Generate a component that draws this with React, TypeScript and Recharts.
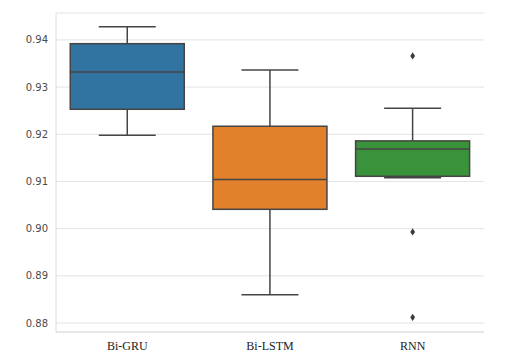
import React from 'react';
import { ComposedChart, Bar, Scatter, XAxis, YAxis, CartesianGrid } from 'recharts';

const categories = ['Bi-GRU', 'Bi-LSTM', 'RNN'];
const whiskerLow = [0.9198, 0.886, 0.9108];
const q1 = [0.9253, 0.9041, 0.9111];
const median = [0.9332, 0.9104, 0.9169];
const q3 = [0.9392, 0.9217, 0.9186];
const whiskerHigh = [0.9428, 0.9336, 0.9255];
const outliers1 = [null, null, 0.9366];
const outliers2 = [null, null, 0.8993];
const outliers3 = [null, null, 0.8812];
const yTicks = [0.88, 0.89, 0.9, 0.91, 0.92, 0.93, 0.94];
const yDomain = [0.8781, 0.9457];

const boxColors = ['#3274a1', '#e1812c', '#3a923a'];
const EDGE = '#444444';

const data = categories.map((name, i) => ({
  name,
  range: [whiskerLow[i], whiskerHigh[i]],
  lo: whiskerLow[i],
  q1: q1[i],
  med: median[i],
  q3: q3[i],
  hi: whiskerHigh[i],
  o1: outliers1[i],
  o2: outliers2[i],
  o3: outliers3[i],
  color: boxColors[i],
}));

const BoxShape = (props: any) => {
  const { x, y, width, height, payload } = props;
  const top = Math.min(y, y + height);
  const h = Math.abs(height);
  const px = h / (payload.hi - payload.lo);
  const Y = (v: number) => top + (payload.hi - v) * px;
  const cx = x + width / 2;
  const capHalf = width / 4;
  return (
    <g>
      <line x1={cx} x2={cx} y1={Y(payload.hi)} y2={Y(payload.q3)} stroke={EDGE} strokeWidth={1.5} />
      <line x1={cx} x2={cx} y1={Y(payload.q1)} y2={Y(payload.lo)} stroke={EDGE} strokeWidth={1.5} />
      <line x1={cx - capHalf} x2={cx + capHalf} y1={Y(payload.hi)} y2={Y(payload.hi)} stroke={EDGE} strokeWidth={1.5} />
      <line x1={cx - capHalf} x2={cx + capHalf} y1={Y(payload.lo)} y2={Y(payload.lo)} stroke={EDGE} strokeWidth={1.5} />
      <rect x={x} y={Y(payload.q3)} width={width} height={Y(payload.q1) - Y(payload.q3)} fill={payload.color} stroke={EDGE} strokeWidth={1.5} />
      <line x1={x} x2={x + width} y1={Y(payload.med)} y2={Y(payload.med)} stroke={EDGE} strokeWidth={1.5} />
    </g>
  );
};

const makeDiamond = (key: string) => (props: any) => {
  const { cx, cy, payload } = props;
  if (payload == null || payload[key] == null || cy == null || isNaN(cy)) return <g />;
  return (
    <polygon
      points={`${cx},${cy - 3.6} ${cx + 2.4},${cy} ${cx},${cy + 3.6} ${cx - 2.4},${cy}`}
      fill="#3a3a3a"
    />
  );
};

export default function App() {
  return (
    <div style={{ position: 'absolute', left: 0, top: 0, background: '#fff' }}>
      <ComposedChart
        width={507}
        height={360}
        data={data}
        margin={{ top: 13, right: 23, bottom: 0, left: 0 }}
        barCategoryGap="10%"
      >
        <CartesianGrid vertical={false} horizontal={true} stroke="#e3e3e3" strokeWidth={1} />
        <XAxis
          dataKey="name"
          xAxisId={0}
          height={28}
          tickLine={false}
          tickSize={0}
          tickMargin={9}
          axisLine={{ stroke: '#dcdcdc' }}
          tick={{ fontFamily: '"Liberation Serif", serif', fontSize: 12, fill: '#222' }}
        />
        <XAxis dataKey="name" xAxisId="top" orientation="top" height={0} tick={false} tickLine={false} axisLine={{ stroke: '#dcdcdc' }} />
        <YAxis
          yAxisId={0}
          type="number"
          domain={yDomain}
          ticks={yTicks}
          allowDataOverflow
          width={56}
          tickLine={false}
          tickSize={0}
          tickMargin={8}
          axisLine={{ stroke: '#dcdcdc' }}
          tickFormatter={(v: number) => v.toFixed(2)}
          tick={{ fontFamily: '"DejaVu Sans", sans-serif', fontSize: 10, fill: '#4a4a4a' }}
        />
        <YAxis yAxisId="right" orientation="right" width={0} domain={yDomain} tick={false} tickLine={false} axisLine={{ stroke: '#dcdcdc' }} />
        <Bar dataKey="range" isAnimationActive={false} shape={BoxShape} />
        <Scatter dataKey="o1" isAnimationActive={false} shape={makeDiamond('o1')} />
        <Scatter dataKey="o2" isAnimationActive={false} shape={makeDiamond('o2')} />
        <Scatter dataKey="o3" isAnimationActive={false} shape={makeDiamond('o3')} />
      </ComposedChart>
    </div>
  );
}
